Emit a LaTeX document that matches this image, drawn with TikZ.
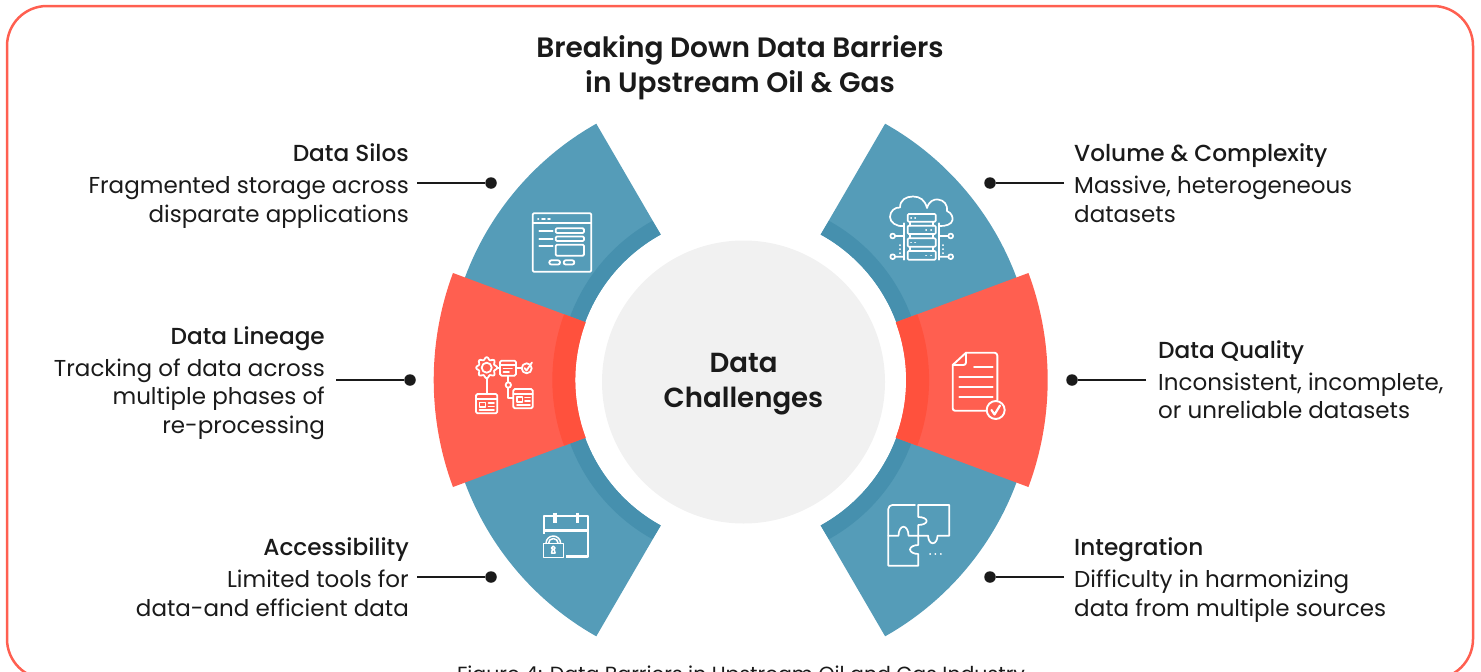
\documentclass[tikz,border=0pt]{standalone}
\usepackage{fontspec}
\setmainfont{Poppins}
\newfontfamily\semi{Poppins SemiBold}
\newfontfamily\medf{Poppins Medium}
\definecolor{bluec}{HTML}{559CB8}
\definecolor{blued}{HTML}{4690AE}
\definecolor{redc}{HTML}{FF5F50}
\definecolor{redd}{HTML}{FF513D}
\definecolor{grayc}{HTML}{F1F1F1}
\definecolor{inkc}{HTML}{1A1A1A}
\newcommand{\segpath}[4]{(#1:#3) -- (#1:#4) arc[start angle=#1,end angle=#2,radius=#4] -- (#2:#3) arc[start angle=#2,end angle=#1,radius=#3] -- cycle}
\newcommand{\bluepath}[3]{(118.8:#2) -- (#1:#3) arc[start angle=#1,end angle=160,radius=#3] -- (160:#2) arc[start angle=160,end angle=118.8,radius=#2] -- cycle}
\tikzset{
  txt/.style={inner sep=0pt,text=inkc,font=\fontsize{23}{28.5}\selectfont},
  hd/.style={inner sep=0pt,text=inkc,font=\medf\fontsize{23.2}{28.5}\selectfont},
  bigt/.style={inner sep=0pt,text=inkc,align=center,font=\semi\fontsize{28}{35}\selectfont},
  lead/.style={draw=inkc,line width=2pt},
  dotn/.style={circle,fill=inkc,inner sep=0pt,minimum size=11.5pt},
  ico/.style={draw=white,line width=1.8pt,line join=round,line cap=round},
}
\begin{document}
\begin{tikzpicture}[x=1pt,y=-1pt]
\useasboundingbox (0,0) rectangle (1481,672);
\clip (0,0) rectangle (1481,672);
\draw[draw=redc,line width=2.5pt,rounded corners=40pt] (7,6) rectangle (1473,679);
\node[bigt] (title) at (740,67.5) {Breaking Down Data Barriers\\in Upstream Oil \& Gas};
\node[inner sep=0pt,text=inkc,font=\fontsize{20.5}{22}\selectfont,anchor=base] (cap) at (741,681) {Figure 4: Data Barriers in Upstream Oil and Gas Industry};
% wedges
\begin{scope}[shift={(740.7,380)},y=1pt]
 \foreach \sx/\sy in {1/1,-1/1,1/-1,-1/-1}{
  \begin{scope}[xscale=\sx,yscale=\sy]
   \fill[bluec] \bluepath{119.4}{166}{294.2};
   \fill[blued] \bluepath{119}{166}{182};
  \end{scope}}
 \foreach \sx in {1,-1}{
  \begin{scope}[xscale=\sx]
   \fill[redc] \segpath{159.6}{200.4}{165.5}{307};
   \fill[redd] \segpath{159.6}{200.4}{165.5}{188.4};
  \end{scope}}
\end{scope}
\node[circle,fill=grayc,minimum size=283pt,inner sep=0pt] (hub) at (743.5,382) {};
\node[bigt,font=\semi\fontsize{27.6}{35}\selectfont] (hubt) at (743.5,384.5) {Data\\Challenges};
% left labels
\node[hd,anchor=base east] (h1) at (409,161) {Data Silos};
\node[txt,anchor=north east,align=right] (t1) at (409,176.5) {Fragmented storage across\\disparate applications};
\node[hd,anchor=base east] (h2) at (325,344) {Data Lineage};
\node[txt,anchor=north east,align=right] (t2) at (325,358.5) {Tracking of data across\\multiple phases of\\re-processing};
\node[hd,anchor=base east] (h3) at (409,555) {Accessibility};
\node[txt,anchor=north east,align=right] (t3) at (409,570) {Limited tools for\\data-and efficient data};
% right labels
\node[hd,anchor=base west] (h4) at (1074,161) {Volume \& Complexity};
\node[txt,anchor=north west,align=left] (t4) at (1074,176) {Massive, heterogeneous\\datasets};
\node[hd,anchor=base west] (h5) at (1158,358) {Data Quality};
\node[txt,anchor=north west,align=left] (t5) at (1158,372.5) {Inconsistent, incomplete,\\or unreliable datasets};
\node[hd,anchor=base west] (h6) at (1074,555) {Integration};
\node[txt,anchor=north west,align=left] (t6) at (1074,570) {Difficulty in harmonizing\\data from multiple sources};
% connectors
\node[dotn] (d1) at (491,183) {}; \coordinate (c1) at (417,183);
\node[dotn] (d2) at (410,380) {}; \coordinate (c2) at (336,380);
\node[dotn] (d3) at (491,577) {}; \coordinate (c3) at (417,577);
\node[dotn] (d4) at (990,183) {}; \coordinate (c4) at (1064,183);
\node[dotn] (d5) at (1072,380) {}; \coordinate (c5) at (1146,380);
\node[dotn] (d6) at (990,577) {}; \coordinate (c6) at (1064,577);
\foreach \i in {1,...,6}{\draw[lead] (c\i) -- (d\i);}
% icon: browser form
\begin{scope}[ico]
\draw[rounded corners=1.2pt] (532.7,213.3) rectangle (591.3,271.7);
\draw (532.7,223.3) -- (591.3,223.3);
\draw (538,218.6)--(538.4,218.6) (542,218.6)--(545,218.6) (548,218.6)--(550,218.6);
\draw (539.3,230.7)--(552.7,230.7) (539.3,238.7)--(552.7,238.7) (539.3,246.3)--(552.7,246.3);
\draw[rounded corners=1.2pt] (555.7,228.3) rectangle (584,233) (555.7,236.5) rectangle (584,241) (555.7,244.7) rectangle (584,255.7);
\draw[rounded corners=2pt] (549.3,260.3) rectangle (560,264.5) (563.7,260.3) rectangle (574.3,264.5);
\end{scope}
% icon: lineage
\begin{scope}[ico,shift={(486.7,367.7)}]
\draw plot[smooth cycle,samples=48,domain=0:352.5] (\x:{9.3+1.3*cos(8*\x)});
\draw (0,0) circle[radius=5];
\end{scope}
\begin{scope}[ico]
\draw (497,367.7)--(500,367.7) (516,367.7)--(521.7,367.7);
\draw[rounded corners=1.5pt] (500,360.7) rectangle (516,375.7);
\draw (500,365)--(516,365) (503.5,368.5)--(512,368.5) (503.5,372)--(509,372);
\draw (526.7,368.3) circle[radius=5];
\draw (524.5,368)--(526.5,370.5)--(532,362.5);
\draw (486.7,378)--(486.7,394);
\draw[rounded corners=1.5pt] (476,394) rectangle (497.3,413.3);
\draw (476,399)--(497.3,399) (479.5,402.5) rectangle (485.5,407) (488.5,403)--(494,403) (488.5,406.5)--(494,406.5) (479.5,410)--(494,410);
\draw (508.3,375.7)--(508.3,382.3) (508.3,387.7)--(508.3,398.3)--(513.3,398.3);
\draw (508.3,385) circle[radius=2.7];
\draw[rounded corners=1.5pt] (513.3,389) rectangle (532.7,408.3);
\draw (513.3,394)--(532.7,394) (517,397) rectangle (522.5,402) (525,397.5)--(530,397.5) (525,401)--(530,401) (517,405)--(530,405);
\end{scope}
% icon: calendar and lock
\begin{scope}[ico,line cap=butt,line width=2.6pt]
\draw (544,534)--(544,516)--(588,516)--(588,556.7)--(566,556.7);
\draw (544,530.7)--(588,530.7);
\draw[line width=3.4pt] (555,512.7)--(555,523) (577.3,512.7)--(577.3,523);
\end{scope}
\begin{scope}[ico,line width=1.5pt]
\draw (543.3,543.3) rectangle (563.3,557.3);
\draw (546,543.3) arc[start angle=180,end angle=360,radius=7.3];
\draw (548.5,543.3) arc[start angle=180,end angle=360,radius=4.8];
\draw (553.3,548) circle[radius=1.8];
\draw (551.5,553)--(555.1,553)--(554.2,549.5)--(552.4,549.5)--cycle;
\end{scope}
% icon: puzzle
\begin{scope}[ico,line width=1.7pt]
\draw (888.3,535.7)--(888.3,509) arc[start angle=180,end angle=270,radius=4]--(915,505);
\draw (918.3,505)--(949.3,505)--(949.3,535.7)--(937.5,535.7) arc[start angle=0,end angle=180,x radius=4.7,y radius=7.6]--(918.3,535.7);
\draw (918.3,505)--(918.3,517) arc[start angle=-90,end angle=90,x radius=8.4,y radius=4]--(918.3,545) arc[start angle=270,end angle=90,x radius=8.3,y radius=4.5]--(918.3,565.7)--(888.3,565.7)--(888.3,535.7)--(898.5,535.7) arc[start angle=180,end angle=360,x radius=5,y radius=9]--(918.3,535.7);
\draw (930,553.7)--(930.3,553.7) (935.2,553.7)--(935.5,553.7) (940.7,553.7)--(941,553.7);
\end{scope}
% icon: cloud server
\begin{scope}[ico,line width=1.7pt]
\draw (904,226) .. controls (896,227) and (890,222) .. (890,217) .. controls (890,211) and (895,207) .. (900,207.5) .. controls (900,200) and (906,196.5) .. (913,196.5) .. controls (920,196.5) and (925,200) .. (927,208) .. controls (929,201) and (934,199) .. (938,199.5) .. controls (944,200) and (948,205) .. (947,211) .. controls (952,213) and (953,218) .. (952.5,220) .. controls (952,224) and (946,226.5) .. (939,226);
\draw[fill=bluec,rounded corners=1pt] (907.7,214) rectangle (935.7,221.7) (907.7,225.7) rectangle (935.7,234) (907.7,238.3) rectangle (935.7,246.7) (907.7,251) rectangle (935.7,259.7);
\draw (910,221.7)--(910,225.7) (933,221.7)--(933,225.7) (910,234)--(910,238.3) (933,234)--(933,238.3) (910,246.7)--(910,251) (933,246.7)--(933,251);
\draw (904,223.3)--(904,259.7) (939,223.3)--(939,259.7);
\draw (892.7,236) circle[radius=2.4] (895.1,236)--(904,236) (892.7,256.7) circle[radius=2.4] (895.1,256.7)--(904,256.7);
\draw (950.7,236) circle[radius=2.4] (948.3,236)--(939,236) (950.7,256.7) circle[radius=2.4] (948.3,256.7)--(939,256.7);
\draw (900,245)--(900,245.3) (900,249)--(900,249.3) (900,253)--(900,253.3) (943,245)--(943,245.3) (943,249)--(943,249.3) (943,253)--(943,253.3);
\draw (911,217.7)--(911.3,217.7) (915,217.7)--(915.3,217.7) (926,230)--(926.3,230) (931,230)--(931.3,230) (911,242.5)--(911.3,242.5) (915,242.5)--(915.3,242.5) (926,255.5)--(926.3,255.5) (931,255.5)--(931.3,255.5);
\end{scope}
% icon: document
\begin{scope}[ico,line width=1.9pt]
\draw (986,410.7)--(955,410.7) arc[start angle=90,end angle=180,radius=2.3]--(952.7,365)--(966,352.7)--(994.5,352.7) arc[start angle=-90,end angle=0,radius=2.8]--(997.3,400);
\draw (966,352.7)--(966,362.5) arc[start angle=0,end angle=90,radius=2.5]--(952.7,365);
\draw (974,367.3)--(992.7,367.3) (959.3,377.3)--(992.7,377.3) (959.3,386.7)--(992.7,386.7) (959.3,396.7)--(992.7,396.7);
\draw[fill=redc] (995.7,410) circle[radius=9];
\draw[line width=2.2pt] (991.5,410)--(994.5,414.5)--(1000,405.5);
\end{scope}
\end{tikzpicture}
\end{document}
